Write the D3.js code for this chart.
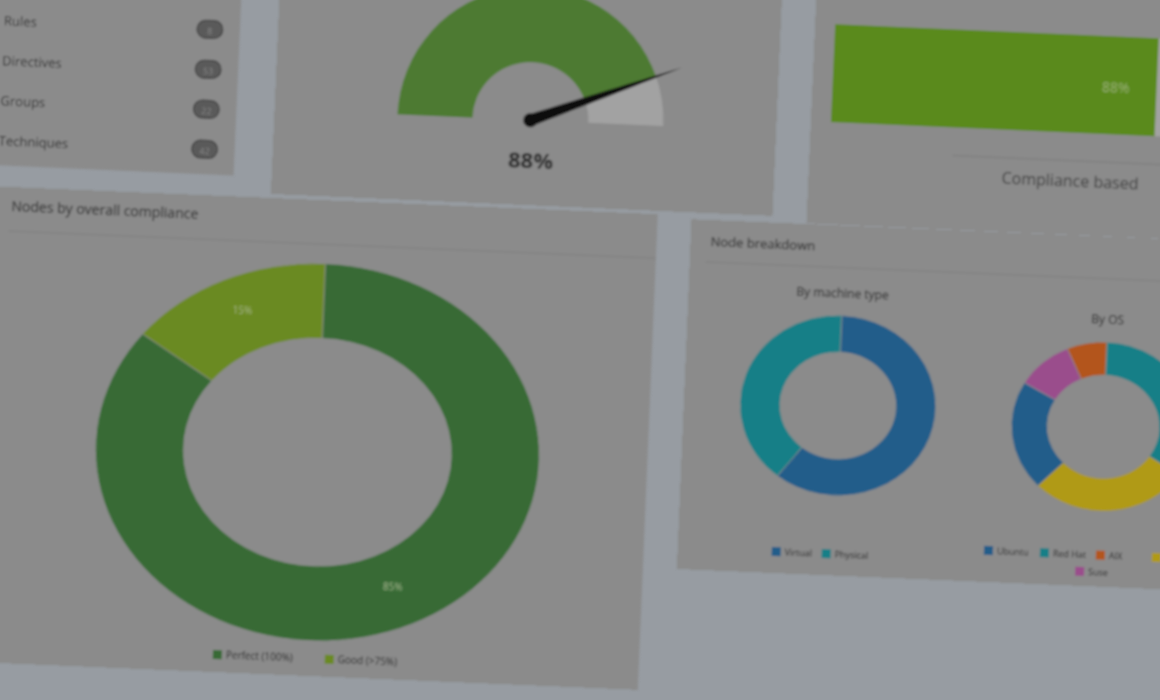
<!DOCTYPE html>
<html><head><meta charset="utf-8">
<script src="https://cdn.jsdelivr.net/npm/d3@7"></script>
<style>body{margin:0;background:#979ca2;overflow:hidden}text{font-family:"Open Sans",sans-serif}</style>
</head><body>
<script>
// dashboard data
const listLabels = ["Rules", "Directives", "Groups", "Techniques"];
const listCounts = ["8", "53", "22", "42"];
const globalCompliance = 88;
const complianceCats = ["Perfect (100%)", "Good (>75%)"];
const complianceVals = [85, 15];
const complianceColors = ["#386b36", "#6b8a22"];
const machineCats = ["Virtual", "Physical"];
const machineVals = [60, 40];
const machineColors = ["#245d8a", "#127f87"];
const osCats = ["Red Hat", "Debian", "Ubuntu", "Suse", "AIX"];
const osVals = [34, 28, 21, 10, 7];
const osColors = ["#127f87", "#b09a12", "#245d8a", "#9a4d8c", "#b3541c"];
const osLegend = ["Ubuntu", "Red Hat", "AIX", "Debian", "Suse"];

const W = 1160, H = 700;
const svg = d3.select("body").append("svg").attr("width", W).attr("height", H);
const defs = svg.append("defs");
defs.append("filter").attr("id", "blur").append("feGaussianBlur").attr("stdDeviation", 1.3);
const root = svg.append("g").attr("filter", "url(#blur)");
const panelFill = "#8b8b8b", dark = "#2e2e2e";

function panel(x, y, w, h, rot) {
  const g = root.append("g").attr("transform", `rotate(${rot},${x + w / 2},${y + h / 2})`);
  g.append("rect").attr("x", x).attr("y", y).attr("width", w).attr("height", h).attr("fill", panelFill);
  return g;
}

// top-left list
const p1 = panel(-20, -30, 258, 200, 2.5);
listLabels.forEach((l, i) => {
  const y = 30 + i * 40;
  p1.append("text").attr("x", 2).attr("y", y).attr("font-size", 13).attr("fill", dark).text(l);
  p1.append("rect").attr("x", 195).attr("y", y - 14).attr("width", 26).attr("height", 18).attr("rx", 9)
    .attr("fill", "#5a5a5a").attr("stroke", "#3c3c3c");
  p1.append("text").attr("x", 208).attr("y", y).attr("text-anchor", "middle").attr("font-size", 9).attr("fill", "#888").text(listCounts[i]);
});

// gauge
const p2 = panel(276, -40, 502, 245, 2.5);
const gScale = d3.scaleLinear().domain([0, 100]).range([-Math.PI / 2, Math.PI / 2]);
const gArc = d3.arc().innerRadius(58).outerRadius(133);
const gc = p2.append("g").attr("transform", "translate(532,120)");
gc.append("path").attr("d", gArc({startAngle: gScale(0), endAngle: gScale(100)})).attr("fill", "#a2a2a2");
gc.append("path").attr("d", gArc({startAngle: gScale(0), endAngle: gScale(globalCompliance)})).attr("fill", "#4d7a33");
const na = gScale(globalCompliance);
const nx = 160 * Math.sin(na), ny = -160 * Math.cos(na);
gc.append("path").attr("d", `M${-6 * Math.cos(na)},${-6 * Math.sin(na)} L${nx},${ny} L${6 * Math.cos(na)},${6 * Math.sin(na)} Z`).attr("fill", "#111");
gc.append("circle").attr("r", 7).attr("fill", "#111");
p2.append("text").attr("x", 534).attr("y", 168).attr("text-anchor", "middle").attr("font-size", 22).attr("font-weight", "bold").attr("fill", dark).text(globalCompliance + "%");

// top-right bar
const p3 = panel(812, -30, 400, 262, 2.5);
const bx = d3.scaleLinear().domain([0, 100]).range([832, 1200]);
p3.append("rect").attr("x", 832).attr("y", 32).attr("width", bx(100) - bx(0)).attr("height", 98).attr("fill", "#a2a2a2");
p3.append("rect").attr("x", 832).attr("y", 32).attr("width", bx(globalCompliance) - bx(0)).attr("height", 98).attr("fill", "#5a8a1e");
p3.append("text").attr("x", 1115).attr("y", 88).attr("text-anchor", "middle").attr("font-size", 14).attr("fill", "#9cb27a").text(globalCompliance + "%");
p3.append("line").attr("x1", 955).attr("x2", 1180).attr("y1", 158).attr("y2", 158).attr("stroke", "#7a7a7a");
p3.append("text").attr("x", 1005).attr("y", 184).attr("font-size", 16).attr("fill", "#404040").text("Compliance based");

// nodes by overall compliance
const p4 = panel(-20, 200, 668, 476, 2.4);
p4.append("text").attr("x", 2).attr("y", 224).attr("font-size", 14).attr("fill", dark).text("Nodes by overall compliance");
p4.append("line").attr("x1", 0).attr("x2", 648).attr("y1", 244).attr("y2", 244).attr("stroke", "#7e7e7e");
const pie = d3.pie().sort(null);
const bigArc = d3.arc().innerRadius(134).outerRadius(222);
const bc = p4.append("g").attr("transform", "translate(318,452) scale(1,0.85)");
const bigData = pie(complianceVals);
bc.selectAll("path").data(bigData).join("path").attr("d", bigArc)
  .attr("fill", (d, i) => complianceColors[i]).attr("stroke", "#8b8b8b").attr("stroke-width", 1);
bc.selectAll("text").data(bigData).join("text")
  .attr("transform", d => `translate(${bigArc.centroid(d)}) scale(1,1.18)`)
  .attr("text-anchor", "middle").attr("font-size", 10).attr("fill", "#a8b890")
  .text(d => d.data + "%");
const lg = p4.append("g").attr("transform", "translate(222,662)");
complianceCats.forEach((c, i) => {
  const x = i * 112;
  lg.append("rect").attr("x", x).attr("y", -8).attr("width", 9).attr("height", 9).attr("fill", complianceColors[i]);
  lg.append("text").attr("x", x + 13).attr("y", 0).attr("font-size", 10).attr("fill", dark).text(c);
});

// node breakdown
const p5 = panel(684, 230, 520, 350, 2.4);
p5.append("text").attr("x", 704).attr("y", 256).attr("font-size", 13).attr("fill", dark).text("Node breakdown");
p5.append("line").attr("x1", 700).attr("x2", 1200).attr("y1", 272).attr("y2", 272).attr("stroke", "#7e7e7e");
function donut(cx, cy, title, vals, colors, ro, ri) {
  const a = d3.arc().innerRadius(ri).outerRadius(ro);
  p5.append("text").attr("x", cx).attr("y", cy - ro * 0.92 - 18).attr("text-anchor", "middle").attr("font-size", 12).attr("fill", dark).text(title);
  p5.append("g").attr("transform", `translate(${cx},${cy}) scale(1,0.92)`).selectAll("path").data(pie(vals)).join("path")
    .attr("d", a).attr("fill", (d, i) => colors[i]).attr("stroke", "#8b8b8b").attr("stroke-width", 1);
}
donut(838, 410, "By machine type", machineVals, machineColors, 98, 58);
donut(1104, 420, "By OS", osVals, osColors, 92, 56);
function legend(x, y, cats, colorOf, step) {
  cats.forEach((c, i) => {
    const g = p5.append("g").attr("transform", `translate(${x + i * step},${y})`);
    g.append("rect").attr("y", -8).attr("width", 9).attr("height", 9).attr("fill", colorOf(c));
    g.append("text").attr("x", 13).attr("font-size", 9).attr("fill", dark).text(c);
  });
}
legend(778, 562, machineCats, c => machineColors[machineCats.indexOf(c)], 50);
legend(990, 552, osLegend.slice(0, 4), c => osColors[osCats.indexOf(c)], 56);
legend(1082, 569, osLegend.slice(4), c => osColors[osCats.indexOf(c)], 56);
</script>
</body></html>
